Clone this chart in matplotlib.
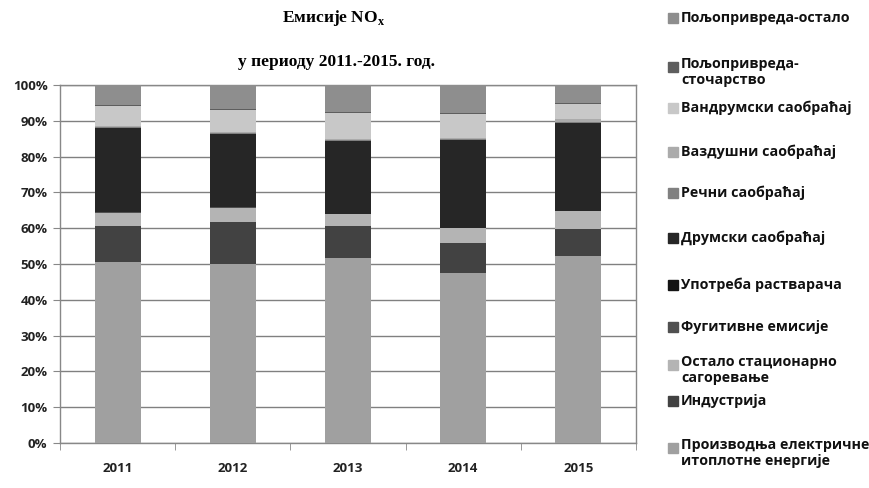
import matplotlib
matplotlib.use("Agg")
import matplotlib.pyplot as plt
from matplotlib.patches import Rectangle
import numpy as np

# Године
years = ["2011", "2012", "2013", "2014", "2015"]

# Удео појединих извора у емисији NOx (%), одоздо навише
proizvodnja = [50.5, 50.1, 51.8, 47.5, 52.1]
industrija = [10.2, 11.6, 8.8, 8.3, 7.7]
ostalo_stac = [3.6, 4.0, 3.4, 4.2, 5.0]
fugitivne = [0.1, 0.1, 0.1, 0.1, 0.1]
rastvaraci = [0.0, 0.0, 0.0, 0.0, 0.0]
drumski = [23.6, 20.5, 20.3, 24.4, 24.6]
recni = [0.3, 0.2, 0.2, 0.4, 0.2]
vazdusni = [0.3, 0.3, 0.2, 0.4, 0.7]
vandrumski = [5.5, 6.2, 7.5, 6.7, 4.2]
stocarstvo = [0.2, 0.2, 0.2, 0.2, 0.4]
poljo_ostalo = [5.7, 6.8, 7.5, 7.8, 5.0]

series = [
    ("Производња електричне\nитоплотне енергије", proizvodnja, "#a0a0a0"),
    ("Индустрија", industrija, "#424242"),
    ("Остало стационарно\nсагоревање", ostalo_stac, "#b4b4b4"),
    ("Фугитивне емисије", fugitivne, "#505050"),
    ("Употреба растварача", rastvaraci, "#141414"),
    ("Друмски саобраћај", drumski, "#262626"),
    ("Речни саобраћај", recni, "#808080"),
    ("Ваздушни саобраћај", vazdusni, "#ababab"),
    ("Вандрумски саобраћај", vandrumski, "#c8c8c8"),
    ("Пољопривреда-\nсточарство", stocarstvo, "#5e5e5e"),
    ("Пољопривреда-остало", poljo_ostalo, "#8e8e8e"),
]

SANS = "Open Sans"

fig = plt.figure(figsize=(8.69, 4.88), dpi=100)
W, H = 869, 488
ax = fig.add_axes([60 / W, 1 - 443 / H, 576 / W, 358 / H])

x = np.arange(len(years))
bottom = np.zeros(len(years))
for label, vals, color in series:
    ax.bar(x, vals, width=0.4, bottom=bottom, color=color, zorder=3)
    bottom += np.array(vals)

ax.set_xlim(-0.5, len(years) - 0.5)
ax.set_ylim(0, 100)
ax.set_yticks(range(0, 101, 10))
ax.set_yticklabels([f"{v}%" for v in range(0, 101, 10)])
ax.set_xticks(x)
ax.set_xticklabels(years)
ax.set_xticks(np.arange(-0.5, len(years), 1), minor=True)
ax.tick_params(axis="x", which="major", length=0, pad=14)
ax.tick_params(axis="x", which="minor", length=5, color="#888888", direction="out")
ax.tick_params(axis="y", length=5, color="#888888", pad=4)
for lab in ax.get_xticklabels() + ax.get_yticklabels():
    lab.set_fontfamily(SANS)
    lab.set_fontweight("bold")
    lab.set_fontsize(9.5)
    lab.set_color("#222222")

ax.grid(axis="y", color="#808080", linewidth=1, zorder=0)
for sp in ax.spines.values():
    sp.set_color("#888888")
    sp.set_linewidth(1)

# Наслов
fig.text(334 / W, 1 - 18 / H, "Емисије NO$_\\mathregular{x}$", ha="center", va="center",
         fontfamily="Liberation Serif", fontweight="bold", fontsize=12.5)
fig.text(336 / W, 1 - 62 / H, "у периоду 2011.-2015. год.", ha="center", va="center",
         fontfamily="Liberation Serif", fontweight="bold", fontsize=12.5)

# Легенда (обрнутим редоследом, као у Excel-у)
legend_y = [18, 67, 108, 152, 193, 238, 285, 327, 365, 401, 448]
for (label, vals, color), yy in zip(series[::-1], legend_y):
    fig.patches.append(Rectangle((668 / W, 1 - (yy + 5) / H), 10 / W, 10 / H,
                                 transform=fig.transFigure, color=color))
    two = "\n" in label
    fig.text(681 / W, 1 - (yy - 10 if two else yy) / H, label, ha="left",
             va="top" if two else "center",
             fontfamily=SANS, fontweight="bold", fontsize=10.3, linespacing=1.15,
             color="#111111")

plt.savefig("out.png", dpi=100)
